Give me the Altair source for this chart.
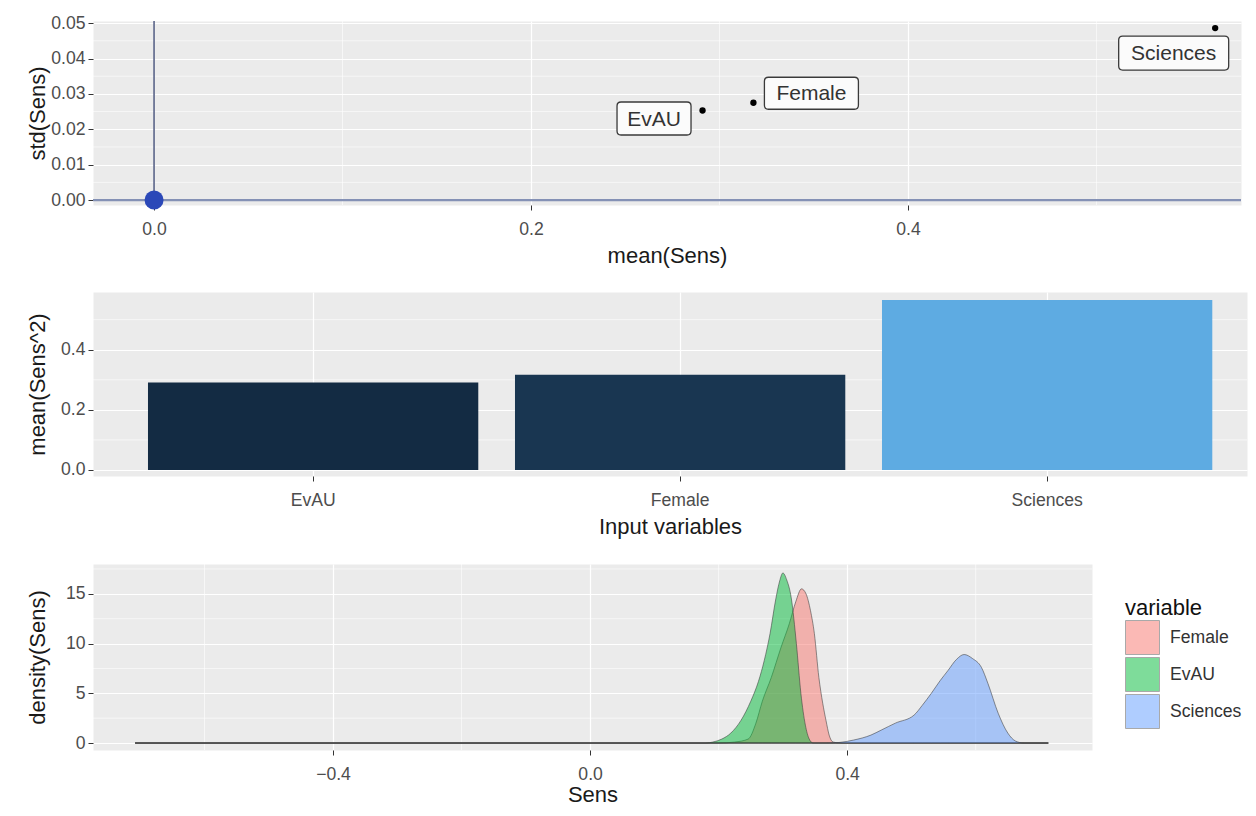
import altair as alt
import pandas as pd

# ---------------- data ----------------
VARS = ["EvAU", "Female", "Sciences"]
MEAN_SENS = [0.291, 0.318, 0.563]
STD_SENS = [0.0253, 0.0275, 0.0486]
MEAN_SENS2 = [0.291, 0.317, 0.565]

DENS_ORDER = ["Female", "EvAU", "Sciences"]
DENS_COLORS = ["#F8766D", "#00BA38", "#619CFF"]

FEMALE_X = [-0.708, 0.200, 0.225, 0.246, 0.258, 0.268, 0.282, 0.297, 0.310, 0.320, 0.329,
            0.336, 0.343, 0.349, 0.356, 0.362, 0.367, 0.372, 0.378, 0.390, 0.713]
FEMALE_Y = [0.0, 0.0, 0.1, 0.4, 2.0, 4.2, 6.6, 9.6, 12.0, 14.2, 15.5,
            15.0, 13.3, 11.0, 6.6, 4.0, 2.3, 0.8, 0.1, 0.0, 0.0]

EVAU_X = [-0.708, 0.180, 0.191, 0.205, 0.219, 0.235, 0.250, 0.262, 0.271, 0.280, 0.289,
          0.295, 0.300, 0.306, 0.313, 0.321, 0.328, 0.335, 0.341, 0.347, 0.713]
EVAU_Y = [0.0, 0.0, 0.1, 0.4, 1.0, 2.3, 4.2, 6.2, 8.3, 11.0, 14.5,
          16.3, 17.1, 16.4, 14.6, 10.0, 5.0, 1.8, 0.4, 0.0, 0.0]

SCI_X = [-0.708, 0.370, 0.387, 0.410, 0.437, 0.453, 0.475, 0.504, 0.517, 0.531, 0.545,
         0.557, 0.570, 0.582, 0.595, 0.609, 0.619, 0.635, 0.650, 0.662, 0.675, 0.713]
SCI_Y = [0.0, 0.0, 0.05, 0.3, 0.8, 1.3, 2.0, 2.8, 3.8, 5.0, 6.3,
         7.3, 8.4, 8.9, 8.5, 7.6, 6.0, 3.0, 1.0, 0.2, 0.0, 0.0]

TOP_X_TICKS = [0.0, 0.2, 0.4]
TOP_X_MINOR = [0.1, 0.3, 0.5]
TOP_Y_TICKS = [0.0, 0.01, 0.02, 0.03, 0.04, 0.05]
TOP_Y_MINOR = [0.005, 0.015, 0.025, 0.035, 0.045]
MID_Y_TICKS = [0.0, 0.2, 0.4]
MID_Y_MINOR = [0.1, 0.3, 0.5]
BOT_X_TICKS = [-0.4, 0.0, 0.4]
BOT_X_MINOR = [-0.6, -0.2, 0.2, 0.6]
BOT_Y_TICKS = [0, 5, 10, 15]
BOT_Y_MINOR = [2.5, 7.5, 12.5, 17.5]

# ---------------- styling helpers ----------------
FONT = "Liberation Sans"
LABEL_SIZE = 17.6
TITLE_SIZE = 22


def yaxis(values, fmt, title, ext=39):
    return alt.Axis(values=values, format=fmt, title=title, minExtent=ext, maxExtent=ext,
                    titlePadding=5, labelPadding=3, tickSize=5, labelOverlap=False)


def xaxis(values, fmt, title, ext, tpad, grid=True):
    kw = dict(title=title, minExtent=ext, maxExtent=ext, titlePadding=tpad,
              labelPadding=10, tickSize=5, labelOverlap=False, labelAngle=0, grid=grid)
    if values is not None:
        kw["values"] = values
    if fmt is not None:
        kw["format"] = fmt
    return alt.Axis(**kw)


def minor_rules(values, channel, scale, axis):
    df = pd.DataFrame({"v": values})
    base = alt.Chart(df).mark_rule(color="white", strokeWidth=0.6)
    if channel == "x":
        return base.encode(x=alt.X("v:Q", scale=scale, axis=axis))
    return base.encode(y=alt.Y("v:Q", scale=scale, axis=axis))


def rrect(w, h, r=4):
    x0, x1, y0, y1 = -w / 2, w / 2, -h / 2, h / 2
    return (f"M{x0 + r},{y0}L{x1 - r},{y0}Q{x1},{y0} {x1},{y0 + r}"
            f"L{x1},{y1 - r}Q{x1},{y1} {x1 - r},{y1}"
            f"L{x0 + r},{y1}Q{x0},{y1} {x0},{y1 - r}"
            f"L{x0},{y0 + r}Q{x0},{y0} {x0 + r},{y0}Z")


# ---------------- top panel ----------------
xs_top = alt.Scale(domain=[-0.0324, 0.5767], nice=False, zero=False)
ys_top = alt.Scale(domain=[-0.0014, 0.0506], nice=False, zero=False)
xa_top = xaxis(TOP_X_TICKS, ".1f", "mean(Sens)", 33, 7)
ya_top = yaxis(TOP_Y_TICKS, ".2f", "std(Sens)")

df_top = pd.DataFrame({"variable": VARS, "mean": MEAN_SENS, "std": STD_SENS})
df_zero = pd.DataFrame({"z": [0.0]})


def X_top(f):
    return alt.X(f, scale=xs_top, axis=xa_top)


def Y_top(f):
    return alt.Y(f, scale=ys_top, axis=ya_top)


pts = alt.Chart(df_top).mark_circle(size=40, color="black", opacity=1).encode(
    x=X_top("mean:Q"), y=Y_top("std:Q"))

hline = alt.Chart(df_zero).mark_rule(color="#8491B5", strokeWidth=2.2).encode(y=Y_top("z:Q"))
vline = alt.Chart(df_zero).mark_rule(color="#4F5A80", strokeWidth=1.5).encode(x=X_top("z:Q"))
origin = alt.Chart(df_zero).mark_circle(size=360, color="#2B48B8", opacity=1).encode(
    x=X_top("z:Q"), y=Y_top("z:Q"))

# label box layout (width, height, dx, dy) in pixels relative to the point
LABEL_BOX = {
    "EvAU": (74, 33, -48.5, 8),
    "Female": (94, 32, 58, -9.5),
    "Sciences": (110, 34, -41.5, 25),
}

label_layers = []
for name, (w, h, dx, dy) in LABEL_BOX.items():
    base = alt.Chart(df_top).transform_filter(alt.datum.variable == name)
    box = base.mark_point(shape=rrect(w, h), size=4, filled=True, fill="#FBFBFB",
                          stroke="#3A3A3A", strokeWidth=1.3, opacity=1,
                          xOffset=dx, yOffset=dy).encode(x=X_top("mean:Q"), y=Y_top("std:Q"))
    txt = base.mark_text(font=FONT, fontSize=21, color="#333333", align="center",
                         baseline="middle", dx=dx, dy=dy + 1).encode(
        x=X_top("mean:Q"), y=Y_top("std:Q"), text="variable:N")
    label_layers += [box, txt]

top = alt.layer(
    minor_rules(TOP_X_MINOR, "x", xs_top, xa_top),
    minor_rules(TOP_Y_MINOR, "y", ys_top, ya_top),
    hline, vline, origin, pts, *label_layers,
).properties(width=1148, height=184)

# ---------------- middle panel ----------------
df_mid = pd.DataFrame({"variable": VARS, "ms2": MEAN_SENS2})
xs_mid = alt.Scale(domain=VARS, paddingInner=0.1, paddingOuter=0.1222, align=0.613)
ys_mid = alt.Scale(domain=[-0.02, 0.592], nice=False, zero=False)
ya_mid = yaxis(MID_Y_TICKS, ".1f", "mean(Sens^2)")

bars = alt.Chart(df_mid).mark_bar().encode(
    x=alt.X("variable:N", sort=VARS, scale=xs_mid,
            axis=xaxis(None, None, "Input variables", 33, 7, grid=True)),
    y=alt.Y("ms2:Q", scale=ys_mid, axis=ya_mid),
    color=alt.Color("ms2:Q", scale=alt.Scale(range=["#132B43", "#5EABE2"], interpolate="lab"),
                    legend=None),
)
mid = alt.layer(minor_rules(MID_Y_MINOR, "y", ys_mid, ya_mid), bars).properties(
    width=1154, height=184)

# ---------------- bottom panel ----------------
rows = []
for name, xs, ys in [("Female", FEMALE_X, FEMALE_Y), ("EvAU", EVAU_X, EVAU_Y),
                     ("Sciences", SCI_X, SCI_Y)]:
    for a, b in zip(xs, ys):
        rows.append({"variable": name, "Sens": a, "density": b})
df_bot = pd.DataFrame(rows)

xs_bot = alt.Scale(domain=[-0.7735, 0.781], nice=False, zero=False)
ys_bot = alt.Scale(domain=[-0.7, 18.0], nice=False, zero=False)
xa_bot = xaxis(BOT_X_TICKS, ".1f", "Sens", 31, 3)
ya_bot = yaxis(BOT_Y_TICKS, "d", "density(Sens)")
color_scale = alt.Scale(domain=DENS_ORDER, range=DENS_COLORS)
legend = alt.Legend(title="variable", orient="none", legendX=1032, legendY=34,
                    symbolType="square", symbolSize=1156, symbolOpacity=0.5,
                    symbolStrokeColor="#555555", symbolStrokeWidth=1,
                    labelFont=FONT, labelFontSize=LABEL_SIZE, labelColor="#333333",
                    labelOffset=10, titleFont=FONT, titleFontSize=TITLE_SIZE,
                    titleFontWeight="normal", titleColor="#111111", titlePadding=0,
                    rowPadding=-5, padding=0)

dens_layers = []
for name in DENS_ORDER:
    dens_layers.append(
        alt.Chart(df_bot).transform_filter(alt.datum.variable == name).mark_area(
            fillOpacity=0.5, stroke="#3A3A3A", strokeOpacity=0.55, strokeWidth=1,
            interpolate="monotone").encode(
            x=alt.X("Sens:Q", scale=xs_bot, axis=xa_bot),
            y=alt.Y("density:Q", scale=ys_bot, axis=ya_bot, stack=None),
            color=alt.Color("variable:N", scale=color_scale, legend=legend),
        )
    )

bot = alt.layer(
    minor_rules(BOT_X_MINOR, "x", xs_bot, xa_bot),
    minor_rules(BOT_Y_MINOR, "y", ys_bot, ya_bot),
    *dens_layers,
).properties(width=999, height=186)

chart = alt.concat(top, mid, bot, columns=1, spacing=26).properties(
    padding={"left": 18, "top": 6, "right": 0, "bottom": 0},
    background="white",
).configure_view(fill="#EBEBEB", strokeOpacity=0).configure_axis(
    domain=False, gridColor="white", gridWidth=1.2, gridOpacity=1,
    tickColor="#333333", tickWidth=1,
    labelFont=FONT, labelFontSize=LABEL_SIZE, labelColor="#4D4D4D",
    titleFont=FONT, titleFontSize=TITLE_SIZE, titleFontWeight="normal", titleColor="#1A1A1A",
)

chart.save("out.html", embed_options={"renderer": "svg", "actions": False})
